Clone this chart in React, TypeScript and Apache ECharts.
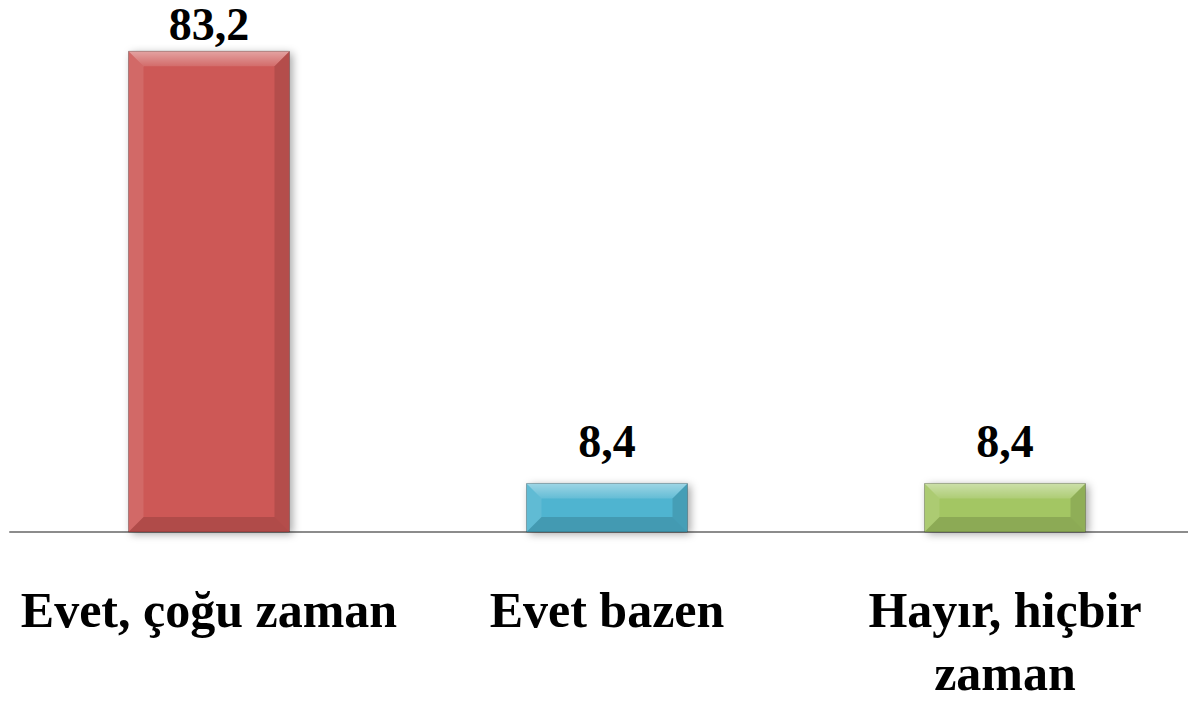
import React, { useEffect, useRef } from "react";
import * as echarts from "echarts";

const categories = ["Evet, çoğu zaman", "Evet bazen", "Hayır, hiçbir zaman"];
const values = [83.2, 8.4, 8.4];
const valueLabels = ["83,2", "8,4", "8,4"];
const barColors = ["#cd5956", "#4fb4d0", "#a3c664"];
const maxLabelChars = 18;

function wrapLabel(s: string) {
  if (s.length <= maxLabelChars) return s;
  const i = s.lastIndexOf(" ");
  return i > 0 ? s.slice(0, i) + "\n" + s.slice(i + 1) : s;
}

export default function App() {
  const ref = useRef<HTMLDivElement>(null);
  useEffect(() => {
    document.body.style.margin = "0";
    document.body.style.overflow = "hidden";
    if (!ref.current) return;
    const chart = echarts.init(ref.current, null, { renderer: "svg" });
    const data = values.map((v, i) => [i, v]);
    chart.setOption({
      animation: false,
      grid: {
        left: 10,
        top: 12,
        bottom: 170,
        width: 1194,
        containLabel: false,
        outerBoundsMode: "none",
      },
      xAxis: {
        type: "category",
        data: categories,
        axisLine: { show: true, lineStyle: { color: "#8c8c8c", width: 2 } },
        axisTick: { show: false },
        axisLabel: {
          interval: 0,
          margin: 46,
          color: "#000",
          fontFamily: "Liberation Serif",
          fontWeight: "bold",
          fontSize: 50,
          lineHeight: 63,
          overflow: "none",
          hideOverlap: false,
          formatter: (v: string) => wrapLabel(v),
        },
      },
      yAxis: {
        type: "value",
        min: 0,
        max: 90,
        show: false,
        splitLine: { show: false },
      },
      series: [
        {
          type: "custom",
          data,
          encode: { x: 0, y: 1 },
          renderItem: (params: any, api: any) => {
            const idx = api.value(0);
            const val = api.value(1);
            const top = api.coord([idx, val]);
            const base = api.coord([idx, 0]);
            const w = 161;
            const x0 = top[0] - w / 2;
            const x1 = x0 + w;
            const y0 = top[1];
            const y1 = base[1];
            const h = y1 - y0;
            const b = Math.min(15, h / 2 - 1);
            const color = barColors[params.dataIndex];
            return {
              type: "group",
              children: [
                {
                  type: "rect",
                  shape: { x: x0, y: y0, width: w, height: h },
                  style: {
                    fill: color,
                    shadowBlur: 8,
                    shadowColor: "rgba(0,0,0,0.35)",
                    shadowOffsetX: 3,
                    shadowOffsetY: 2,
                  },
                },
                {
                  type: "polygon",
                  shape: { points: [[x0, y0], [x1, y0], [x1 - b, y0 + b], [x0 + b, y0 + b]] },
                  style: {
                    fill: {
                      type: "linear", x: 0, y: 0, x2: 0, y2: 1,
                      colorStops: [
                        { offset: 0, color: "rgba(255,255,255,0.45)" },
                        { offset: 1, color: "rgba(255,255,255,0.12)" },
                      ],
                    },
                  },
                },
                {
                  type: "polygon",
                  shape: { points: [[x0, y0], [x0 + b, y0 + b], [x0 + b, y1 - b], [x0, y1]] },
                  style: { fill: "rgba(255,255,255,0.1)" },
                },
                {
                  type: "polygon",
                  shape: { points: [[x1, y0], [x1, y1], [x1 - b, y1 - b], [x1 - b, y0 + b]] },
                  style: { fill: "rgba(0,0,0,0.12)" },
                },
                {
                  type: "polygon",
                  shape: { points: [[x0, y1], [x0 + b, y1 - b], [x1 - b, y1 - b], [x1, y1]] },
                  style: { fill: "rgba(0,0,0,0.14)" },
                },
                {
                  type: "rect",
                  shape: { x: x0, y: y0, width: w, height: h },
                  style: { fill: "none", stroke: "rgba(0,0,0,0.25)", lineWidth: 1 },
                },
                {
                  type: "text",
                  x: top[0],
                  y: Math.max(y0 - 19, 47),
                  style: {
                    text: valueLabels[params.dataIndex],
                    textAlign: "center",
                    textVerticalAlign: "bottom",
                    fill: "#000",
                    fontFamily: "Liberation Serif",
                    fontWeight: "bold",
                    fontSize: 46,
                  },
                },
              ],
            };
          },
        },
      ],
    });
    return () => chart.dispose();
  }, []);
  return <div ref={ref} style={{ width: 1188, height: 702, position: "absolute", left: 0, top: 0, overflow: "hidden" }} />;
}
